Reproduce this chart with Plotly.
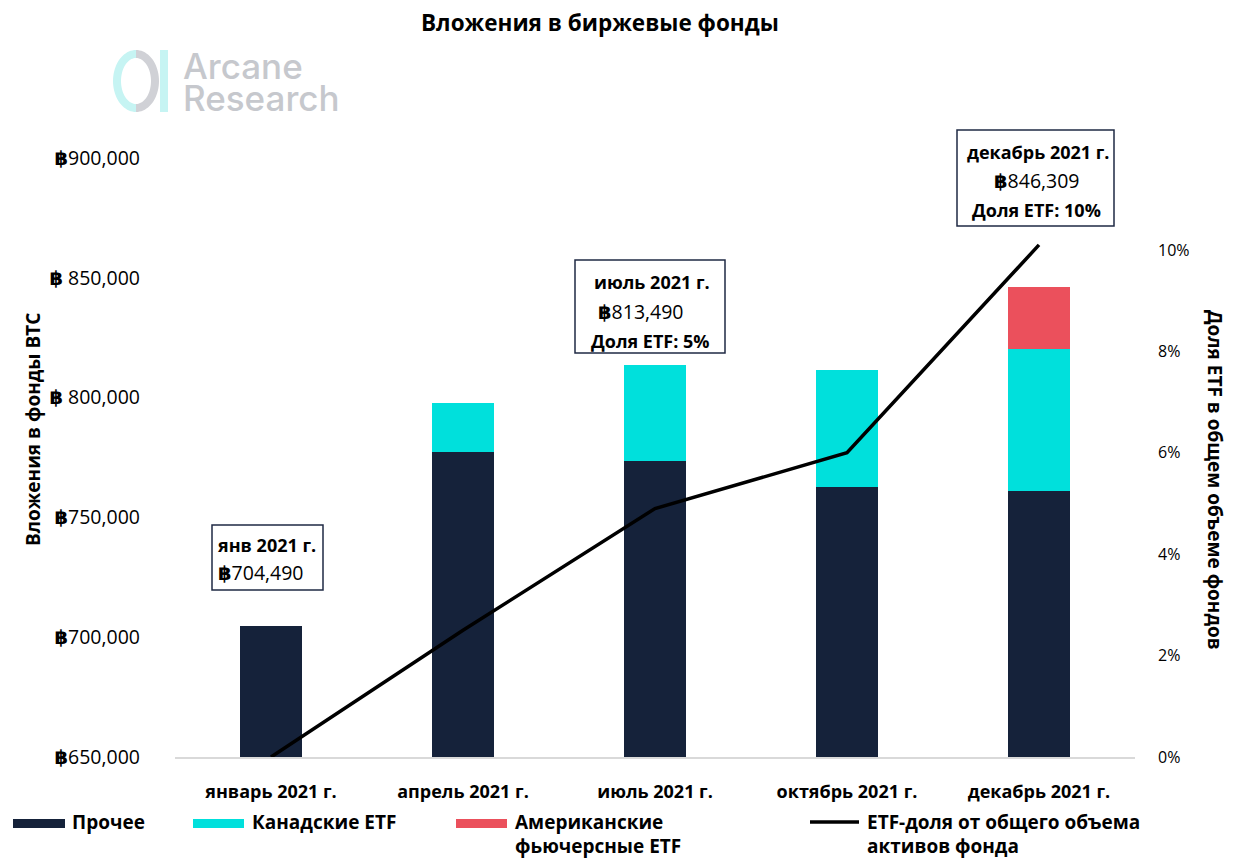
import math
import plotly.graph_objects as go

# ---------------- data ----------------
categories = ["январь 2021 г.", "апрель 2021 г.", "июль 2021 г.", "октябрь 2021 г.", "декабрь 2021 г."]
other = [704490, 777500, 773500, 762500, 761000]
canadian_etf = [0, 20200, 39990, 49000, 59300]
us_futures_etf = [0, 0, 0, 0, 26009]
etf_share = [0.0, 0.025, 0.049, 0.060, 0.101]

series_names = ["Прочее", "Канадские ETF", "Американские<br>фьючерсные ETF",
                "ETF-доля от общего объема<br>активов фонда"]
BTC = '<span style="font-family:DejaVu Sans;font-weight:bold">฿</span>'
left_tickvals = [650000, 700000, 750000, 800000, 850000, 900000]
left_ticktext = [BTC + "650,000", BTC + "700,000", BTC + "750,000",
                 BTC + " 800,000", BTC + " 850,000", BTC + "900,000"]
right_tickvals = [0, 0.02, 0.04, 0.06, 0.08, 0.10]
right_ticktext = ["0%", "2%", "4%", "6%", "8%", "10%"]

callouts = [
    ["янв 2021 г.", BTC + "704,490"],
    ["июль 2021 г.", BTC + "813,490", "Доля ETF: 5%"],
    ["декабрь 2021 г.", BTC + "846,309", "Доля ETF: 10%"],
]

# ---------------- layout geometry ----------------
OFF = 8  # page body margin
W, H = 1227, 850
L, R, T, B = 167, 100, 150, 101
PW, PH = W - L - R, H - T - B

def px(x):
    return (x - OFF - L) / PW

def py(y):
    return (OFF + T + PH - y) / PH

NAVY = "#15223a"
CYAN = "#00e0dc"
RED = "#eb505c"
FONT = "Open Sans, Noto Sans, sans-serif"

fig = go.Figure()
fig.add_bar(x=categories, y=other, name=series_names[0], marker_color=NAVY,
            marker_line_width=0, showlegend=False)
fig.add_bar(x=categories, y=canadian_etf, name=series_names[1], marker_color=CYAN,
            marker_line_width=0, showlegend=False)
fig.add_bar(x=categories, y=us_futures_etf, name=series_names[2], marker_color=RED,
            marker_line_width=0, showlegend=False)
fig.add_scatter(x=categories, y=etf_share, name=series_names[3], mode="lines",
                line=dict(color="black", width=3.5), yaxis="y2", showlegend=False)

shapes = []
annotations = []

def ann(text, x, y, size, family=FONT, xanchor="center", yanchor="middle", angle=0,
        color="black", weight="normal"):
    annotations.append(dict(text=text, x=px(x), y=py(y), xref="paper", yref="paper",
                            xanchor=xanchor, yanchor=yanchor, showarrow=False, textangle=angle,
                            font=dict(family=family, size=size, color=color, weight=weight)))

# title
ann("<b>Вложения в биржевые фонды</b>", 600, 22, 22.5)

# axis titles
ann("<b>Вложения в фонды BTC</b>", 33, 430, 19, angle=-90)
ann("<b>Доля ETF в общем объеме фондов</b>", 1215, 480, 19, angle=90)

# logo
def ring_half(cx, cy, rx, ry, t, a0, a1, n=40):
    pts = []
    for i in range(n + 1):
        a = a0 + (a1 - a0) * i / n
        pts.append((cx + rx * math.cos(a), cy + ry * math.sin(a)))
    for i in range(n + 1):
        a = a1 + (a0 - a1) * i / n
        pts.append((cx + (rx - t) * math.cos(a), cy + (ry - t) * math.sin(a)))
    return "M " + " L ".join(f"{px(x):.5f},{py(y):.5f}" for x, y in pts) + " Z"

cx, cy, rx, ry, th = 136, 81, 23, 31, 8
shapes.append(dict(type="path", path=ring_half(cx, cy, rx, ry, th, math.pi / 2, 3 * math.pi / 2),
                   xref="paper", yref="paper", fillcolor="#c6f4f3", line_width=0, layer="above"))
shapes.append(dict(type="path", path=ring_half(cx, cy, rx, ry, th, -math.pi / 2, math.pi / 2),
                   xref="paper", yref="paper", fillcolor="#d0d1d6", line_width=0, layer="above"))
shapes.append(dict(type="rect", x0=px(160), x1=px(168), y0=py(112), y1=py(50),
                   xref="paper", yref="paper", fillcolor="#c6f4f3", line_width=0, layer="above"))
ann("Arcane", 181, 66, 35, family="Inter, Roboto, sans-serif", xanchor="left",
    color="#c6c8cd", weight=500)
ann("Research", 181, 98, 35, family="Inter, Roboto, sans-serif", xanchor="left",
    color="#c6c8cd", weight=500)

# callout boxes
boxes = [(212, 323, 525, 590), (575, 725, 260, 353), (957, 1114, 130, 226)]
line_pos = [
    [(267, 545), (261, 572)],
    [(652, 282), (641, 311), (650, 341)],
    [(1038, 152), (1037, 181), (1036, 210)],
]
for (x0, x1, y0, y1), lines, pos in zip(boxes, callouts, line_pos):
    shapes.append(dict(type="rect", x0=px(x0), x1=px(x1), y0=py(y1), y1=py(y0),
                       xref="paper", yref="paper", fillcolor="white",
                       line=dict(color="#1f2a44", width=1.5), layer="above"))
    for txt, (tx, ty) in zip(lines, pos):
        if txt.startswith(BTC):
            ann(txt, tx, ty, 19.5)
        else:
            ann("<b>" + txt + "</b>", tx, ty, 18)

# custom legend
leg = [
    ("rect", NAVY, 13, 65, [series_names[0]], 70),
    ("rect", CYAN, 193, 244, [series_names[1]], 250),
    ("rect", RED, 456, 507, series_names[2].split("<br>"), 513),
    ("line", "black", 810, 859, series_names[3].split("<br>"), 865),
]
for kind, col, x0, x1, texts, tx in leg:
    if kind == "rect":
        shapes.append(dict(type="rect", x0=px(x0), x1=px(x1), y0=py(828), y1=py(819),
                           xref="paper", yref="paper", fillcolor=col, line_width=0))
    else:
        shapes.append(dict(type="line", x0=px(x0), x1=px(x1), y0=py(822), y1=py(822),
                           xref="paper", yref="paper", line=dict(color=col, width=3.5)))
    for i, t in enumerate(texts):
        ann("<b>" + t + "</b>", tx, 822 + 24 * i, 19, xanchor="left")

fig.update_layout(
    width=W, height=H,
    margin=dict(l=L, r=R, t=T, b=B, pad=0),
    paper_bgcolor="white", plot_bgcolor="white",
    barmode="stack", bargap=0.68,
    showlegend=False,
    font=dict(family=FONT, color="black"),
    xaxis=dict(showline=True, linecolor="#d9d9d9", linewidth=1.5, showgrid=False,
               ticks="", tickfont=dict(family=FONT, size=18, color="black"),
               ticklabelstandoff=18, tickprefix="<b>", ticksuffix="</b>", zeroline=False),
    yaxis=dict(range=[650000, 900000], tickvals=left_tickvals, ticktext=left_ticktext,
               showgrid=False, zeroline=False, showline=False, ticks="",
               tickfont=dict(family=FONT, size=19.5, color="black"), ticklabelstandoff=34),
    yaxis2=dict(range=[0, 0.10 * PH / 507], overlaying="y", side="right",
                tickvals=right_tickvals, ticktext=right_ticktext,
                showgrid=False, zeroline=False, showline=False, ticks="",
                tickfont=dict(family=FONT, size=16, color="black"), ticklabelstandoff=22),
    shapes=shapes, annotations=annotations,
)

fig.write_html("out.html")
